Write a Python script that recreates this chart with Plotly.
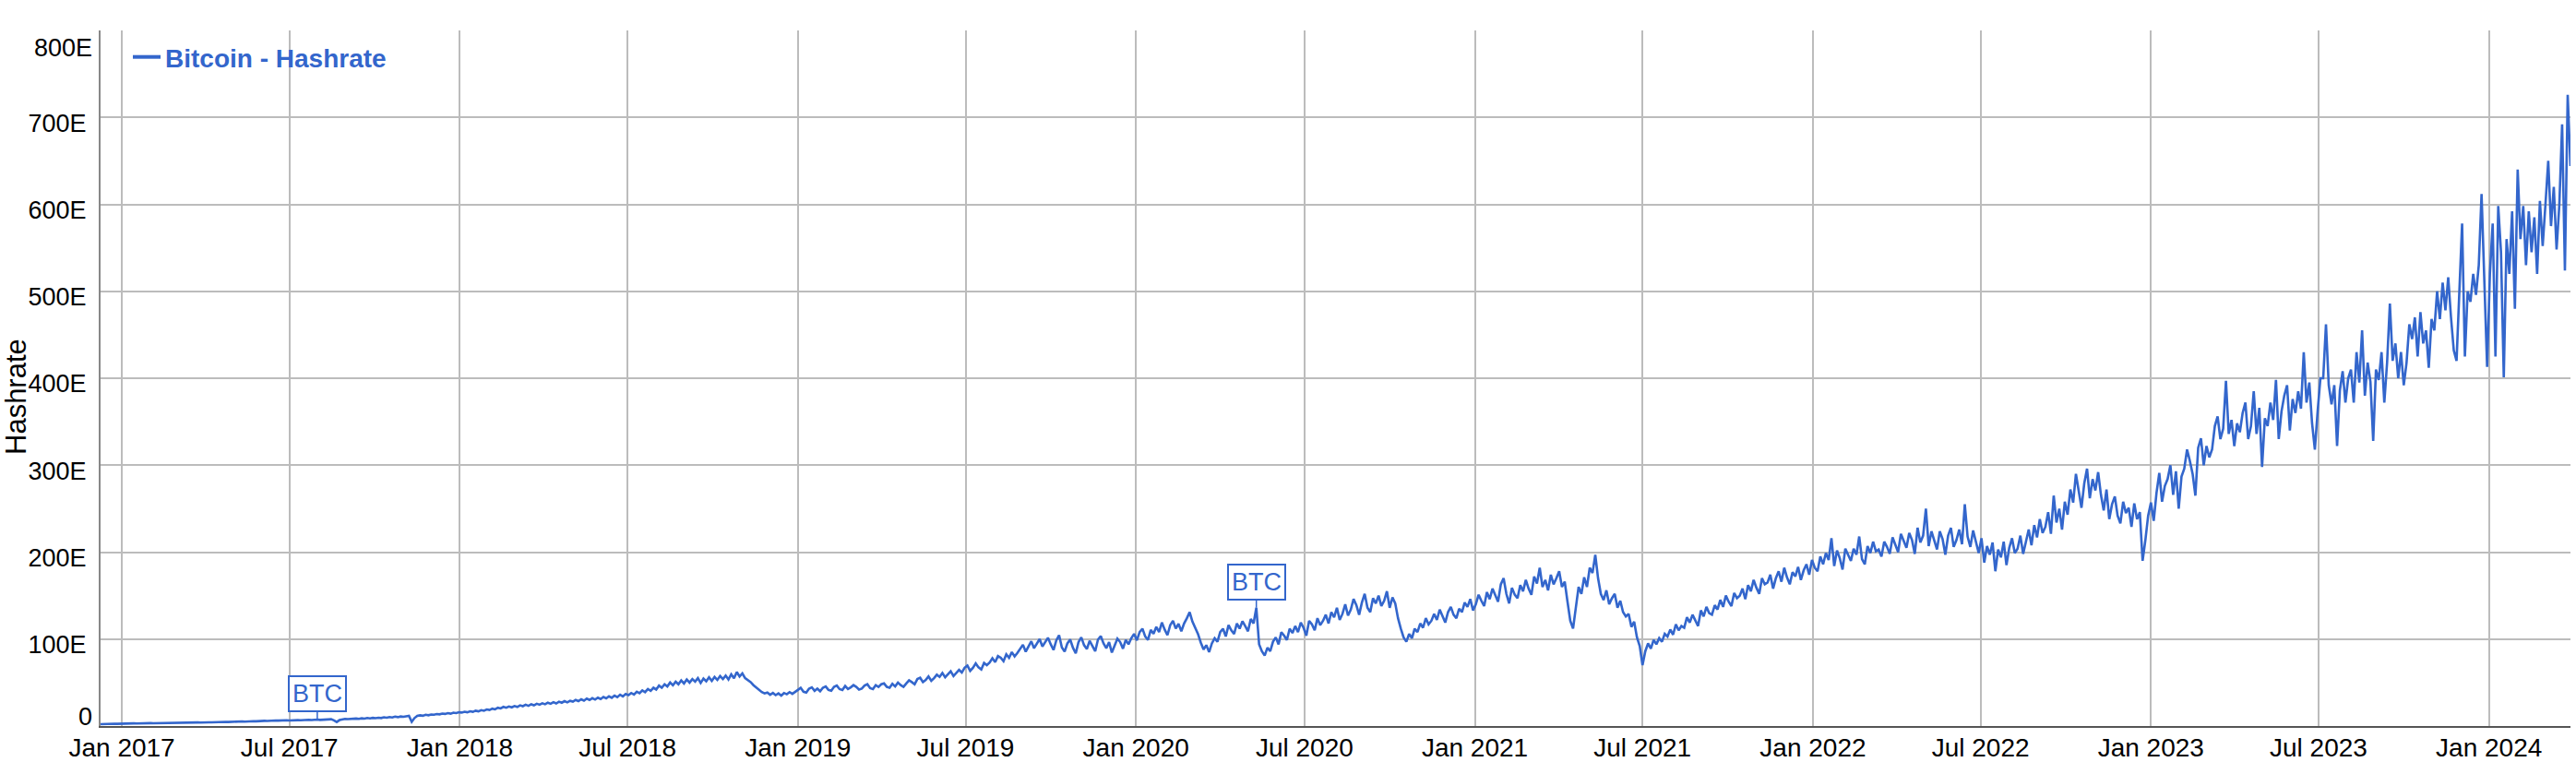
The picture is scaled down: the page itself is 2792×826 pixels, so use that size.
import pandas as pd
import plotly.graph_objects as go

# ---------------- data (EH/s, one reading every 3 days from start_date) ----------------
start_date = "2016-12-09"
step_days = 3

hashrate_2017 = [
    2.2, 2.4, 2.3, 2.5, 2.4, 2.6, 2.5, 2.7, 2.6, 2.8,
    2.9, 2.8, 3.0, 2.9, 3.1, 3.0, 3.2, 3.1, 3.3, 3.2,
    3.3, 3.4, 3.2, 3.5, 3.4, 3.6, 3.5, 3.7, 3.5, 3.8,
    3.7, 3.9, 3.8, 4.0, 3.9, 4.1, 3.9, 4.2, 4.1, 4.3,
    4.2, 4.4, 4.3, 4.5, 4.4, 4.7, 4.6, 4.9, 4.8, 5.1,
    5.0, 5.3, 5.1, 5.5, 5.3, 5.6, 5.4, 5.8, 5.7, 6.0,
    5.9, 6.2, 6.0, 6.4, 6.2, 6.5, 6.3, 6.6, 6.4, 6.7,
    6.5, 6.8, 6.6, 7.0, 6.8, 7.1, 6.9, 7.2, 7.4, 7.0,
    7.2, 7.6, 7.0, 7.8, 6.5, 4.6, 6.8, 7.9, 8.2, 7.9,
    8.3, 8.0, 8.6, 8.2, 8.9, 8.5, 9.2, 8.8, 9.4, 9.1,
    9.6, 9.2, 10.0, 9.6, 10.4, 9.9, 10.8, 10.2, 11.0, 10.6,
    11.0, 11.8, 4.8, 9.2, 11.6, 12.3, 11.8, 12.9, 12.4, 13.3,
    13.0, 13.8, 13.4, 14.3, 13.9, 14.8, 14.2, 15.3, 14.9, 15.8,
]
hashrate_2018 = [
    15.5, 16.4, 15.8, 17.0, 16.3, 17.6, 16.9, 18.3, 17.6, 19.0,
    18.5, 20.0, 19.2, 21.0, 20.2, 22.0, 21.0, 22.5, 21.5, 23.0,
    22.0, 23.8, 22.8, 24.5, 23.2, 25.0, 23.8, 25.6, 24.5, 26.2,
    25.0, 26.8, 25.6, 27.4, 26.0, 28.0, 26.8, 28.6, 27.2, 29.0,
    28.0, 30.0, 28.6, 30.8, 29.2, 31.5, 30.0, 32.0, 30.4, 32.6,
    31.0, 33.4, 31.8, 34.2, 32.5, 35.0, 33.2, 36.0, 34.0, 36.8,
    35.5, 38.0, 36.2, 39.5, 37.8, 41.0, 39.0, 42.5, 40.5, 44.0,
    42.0, 46.5, 44.0, 48.0, 45.5, 50.0, 46.8, 51.0, 48.0, 52.5,
    49.0, 53.5, 50.0, 54.0, 51.0, 55.0, 49.5, 54.5, 51.5, 56.0,
    52.0, 56.5, 53.0, 57.5, 54.0, 58.0, 53.5, 59.5, 55.0, 62.0,
    57.0, 60.5, 55.0, 53.0, 50.5, 47.0, 44.0, 41.5, 39.0, 37.5,
    38.5, 36.0, 38.0, 35.5, 37.5, 35.0, 38.0, 36.5, 39.0, 37.0,
]
hashrate_2019 = [
    39.0, 41.5, 44.0, 39.5, 38.5, 43.0, 44.5, 40.5, 43.0, 40.0,
    44.0, 45.5, 41.5, 40.5, 45.0, 46.5, 42.5, 41.5, 46.0, 42.5,
    44.5, 47.0, 45.0, 42.0, 43.0, 46.5, 48.0, 43.5, 42.5, 47.0,
    45.0, 48.0, 49.0, 45.0, 44.0, 48.5, 45.5, 50.0, 47.0, 45.0,
    49.0, 52.5, 50.5, 48.0, 54.0, 55.5, 50.5, 53.0, 57.0, 52.0,
    55.0, 59.0, 56.5, 61.0, 56.0, 59.5, 63.0, 57.5, 61.5, 64.5,
    61.5, 67.0, 69.5, 63.5, 67.0, 72.0, 67.5, 65.0, 72.5, 70.0,
    73.0, 78.0, 73.5, 80.5, 78.5, 74.5, 82.5, 78.5, 85.0, 80.0,
    84.0, 89.5, 93.5, 85.5, 91.5, 97.5, 89.5, 95.5, 100.0, 91.5,
    96.0, 101.5, 94.0, 87.5, 98.5, 104.5, 90.5, 85.5, 95.0, 99.5,
    90.0, 83.5, 96.5, 102.0, 93.0, 88.5, 98.0, 91.5, 86.0, 99.5,
    103.5, 95.0, 89.5, 96.5, 84.5, 92.5, 100.5, 96.5, 89.0, 99.0,
]
hashrate_2020 = [
    94.0, 101.0, 106.0, 98.5, 108.0, 112.0, 103.0, 99.0, 110.5, 106.0,
    114.0, 108.0, 119.0, 111.0, 104.5, 116.0, 121.0, 112.0, 117.5, 109.0,
    118.0, 124.0, 131.0, 120.0, 113.0, 106.0, 96.0, 88.0, 93.0, 85.0,
    95.0, 101.0, 97.0, 108.0, 112.0, 103.0, 116.0, 110.0, 106.0, 118.0,
    112.0, 120.5, 115.0, 109.0, 123.0, 118.0, 136.0, 94.0, 86.0, 81.0,
    90.0, 86.0, 97.0, 102.0, 94.0, 108.0, 104.0, 99.0, 112.0, 107.0,
    115.0, 108.0, 119.0, 113.0, 104.0, 121.0, 117.0, 110.0, 124.0, 116.0,
    121.0, 128.0, 118.0, 131.0, 125.0, 136.0, 122.0, 129.0, 140.0, 127.0,
    134.0, 146.0, 139.0, 128.0, 142.0, 152.0, 136.0, 131.0, 147.0, 141.0,
    150.0, 138.0, 144.0, 155.0, 136.0, 148.0, 141.0, 124.0, 112.0, 102.0,
    97.0, 106.0, 101.0, 112.0, 108.0, 118.0, 113.0, 124.0, 117.0, 121.0,
    129.0, 122.0, 134.0, 126.0, 119.0, 131.0, 137.0, 128.0, 124.0, 135.0,
    131.0, 142.0, 137.0, 146.0, 133.0, 140.0, 151.0, 144.0, 138.0, 154.0,
]
hashrate_2021 = [
    146.0, 158.0, 150.0, 143.0, 163.0, 170.0, 152.0, 141.0, 159.0, 151.0,
    147.0, 162.0, 155.0, 168.0, 158.0, 151.0, 172.0, 164.0, 182.0, 160.0,
    168.0, 156.0, 174.0, 163.0, 170.0, 178.0, 160.0, 166.0, 143.0, 121.0,
    112.0, 138.0, 160.0, 152.0, 171.0, 160.0, 182.0, 176.0, 197.0, 170.0,
    152.0, 145.0, 156.0, 140.0, 147.0, 152.0, 136.0, 144.0, 131.0, 126.0,
    129.0, 114.0, 120.0, 102.0, 92.0, 70.0, 86.0, 95.0, 89.0, 99.0,
    94.0, 101.0, 97.0, 106.0, 103.0, 111.0, 105.0, 117.0, 110.0, 115.0,
    113.0, 125.0, 119.0, 128.0, 121.0, 115.0, 133.0, 126.0, 137.0, 130.0,
    128.0, 139.0, 134.0, 145.0, 137.0, 150.0, 143.0, 138.0, 153.0, 147.0,
    150.0, 158.0, 146.0, 162.0, 155.0, 168.0, 159.0, 152.0, 170.0, 163.0,
    165.0, 174.0, 158.0, 170.0, 178.0, 166.0, 182.0, 171.0, 163.0, 177.0,
    172.0, 183.0, 168.0, 179.0, 186.0, 174.0, 191.0, 182.0, 178.0, 195.0,
]
hashrate_2022 = [
    186.0, 199.0, 191.0, 216.0, 184.0, 202.0, 193.0, 180.0, 204.0, 196.0,
    190.0, 204.0, 197.0, 218.0, 192.0, 186.0, 207.0, 199.0, 212.0, 201.0,
    203.0, 195.0, 212.0, 206.0, 198.0, 217.0, 209.0, 200.0, 221.0, 213.0,
    205.0, 222.0, 214.0, 198.0, 228.0, 211.0, 219.0, 250.0, 207.0, 224.0,
    212.0, 203.0, 224.0, 215.0, 197.0, 219.0, 228.0, 206.0, 214.0, 226.0,
    209.0, 255.0, 218.0, 206.0, 225.0, 212.0, 199.0, 216.0, 188.0, 207.0,
    197.0, 211.0, 178.0, 203.0, 194.0, 212.0, 185.0, 205.0, 216.0, 199.0,
    204.0, 219.0, 198.0, 212.0, 226.0, 208.0, 231.0, 217.0, 238.0, 222.0,
    229.0, 246.0, 221.0, 265.0, 234.0, 250.0, 226.0, 258.0, 243.0, 272.0,
    257.0, 290.0, 268.0, 251.0, 279.0, 296.0, 262.0, 284.0, 271.0, 292.0,
    266.0, 248.0, 272.0, 238.0, 255.0, 264.0, 242.0, 233.0, 258.0, 245.0,
    251.0, 229.0, 256.0, 238.0, 246.0, 190.0, 214.0, 242.0, 257.0, 236.0,
]
hashrate_2023 = [
    268.0, 291.0, 258.0, 276.0, 284.0, 300.0, 266.0, 293.0, 250.0, 287.0,
    296.0, 318.0, 305.0, 290.0, 265.0, 320.0, 331.0, 300.0, 322.0, 309.0,
    318.0, 345.0, 356.0, 330.0, 342.0, 397.0, 336.0, 352.0, 322.0, 348.0,
    338.0, 360.0, 372.0, 330.0, 345.0, 385.0, 336.0, 366.0, 298.0, 354.0,
    345.0, 372.0, 352.0, 398.0, 330.0, 362.0, 380.0, 392.0, 340.0, 376.0,
    360.0, 385.0, 365.0, 430.0, 372.0, 395.0, 348.0, 318.0, 362.0, 400.0,
    400.0, 462.0, 392.0, 370.0, 392.0, 322.0, 386.0, 408.0, 372.0, 400.0,
    410.0, 372.0, 430.0, 395.0, 455.0, 380.0, 418.0, 396.0, 328.0, 410.0,
    398.0, 430.0, 372.0, 418.0, 486.0, 420.0, 440.0, 400.0, 430.0, 392.0,
    418.0, 462.0, 445.0, 470.0, 425.0, 476.0, 440.0, 455.0, 412.0, 468.0,
    455.0, 500.0, 468.0, 510.0, 478.0, 516.0, 470.0, 432.0, 420.0, 495.0,
    578.0, 425.0, 500.0, 488.0, 520.0, 496.0, 530.0, 612.0, 505.0, 413.0,
]
hashrate_2024 = [
    520.0, 578.0, 425.0, 598.0, 545.0, 401.0, 560.0, 520.0, 592.0, 480.0,
    640.0, 560.0, 598.0, 530.0, 592.0, 545.0, 585.0, 520.0, 604.0, 552.0,
    600.0, 650.0, 575.0, 620.0, 548.0, 600.0, 692.0, 524.0, 726.0, 644.0,
]

series_name = "Bitcoin - Hashrate"
event_dates = ["2017-08-01", "2020-05-11"]
event_labels = ["BTC", "BTC"]

y_tick_values = [100, 200, 300, 400, 500, 600, 700]
y_tick_text = ["100E", "200E", "300E", "400E", "500E", "600E", "700E"]
y_bottom_tick = [0]
y_bottom_text = ["0"]
y_top_tick = [800]
y_top_text = ["800E"]
y_range = [0, 800]

# ---------------- figure ----------------
hashrate = (hashrate_2017 + hashrate_2018 + hashrate_2019 + hashrate_2020
            + hashrate_2021 + hashrate_2022 + hashrate_2023 + hashrate_2024)
dates = pd.date_range(start_date, periods=len(hashrate), freq=f"{step_days}D")

BLUE = "#3366CC"
FONT = "Liberation Sans, Arial, Helvetica, sans-serif"
W, H = 2792, 826
ML, MR, MT, MB = 109, 6, 33, 39
PW, PH = W - ML - MR, H - MT - MB
GRID = "#bcbcbc"

fig = go.Figure()
fig.add_trace(go.Scatter(
    x=dates, y=hashrate, mode="lines", name=series_name,
    line=dict(color=BLUE, width=2.6), hoverinfo="x+y", showlegend=False,
    legendgroup="hr",
))
# legend entry (thicker key line, like the reference legend)
fig.add_trace(go.Scatter(
    x=[dates[0]], y=[None], mode="lines", name=series_name,
    line=dict(color=BLUE, width=4), hoverinfo="skip", legendgroup="hr",
))
# carriers for the boundary tick labels (0 / 800E)
fig.add_trace(go.Scatter(x=[dates[0]], y=[None], yaxis="y2", showlegend=False, hoverinfo="skip"))
fig.add_trace(go.Scatter(x=[dates[0]], y=[None], yaxis="y3", showlegend=False, hoverinfo="skip"))

for d, lab in zip(event_dates, event_labels):
    idx = int(abs(dates - pd.Timestamp(d)).argmin())
    fig.add_annotation(
        x=dates[idx], y=hashrate[idx], xref="x", yref="y",
        text=lab, showarrow=True, arrowhead=0, arrowwidth=1.5, arrowcolor=BLUE,
        ax=0, ay=-28, font=dict(family=FONT, size=27, color=BLUE),
        bordercolor=BLUE, borderwidth=2, borderpad=3, bgcolor="white",
    )

fig.add_annotation(
    text="Hashrate", xref="paper", yref="paper",
    x=(17 - ML) / PW, y=(H - MB - 430) / PH,
    textangle=-90, showarrow=False, xanchor="center", yanchor="middle",
    font=dict(family=FONT, size=31, color="black"),
)

tick_font = dict(family=FONT, size=27, color="black")
fig.update_layout(
    width=W, height=H,
    margin=dict(l=ML, r=MR, t=MT, b=MB, pad=0, autoexpand=False),
    paper_bgcolor="white", plot_bgcolor="white",
    font=dict(family=FONT, color="black"),
    showlegend=True,
    legend=dict(
        x=(139 - ML) / PW, y=1.0 - 4 / PH, xanchor="left", yanchor="top",
        bgcolor="rgba(0,0,0,0)", borderwidth=0,
        font=dict(family=FONT, size=28, color=BLUE, weight="bold"),
        itemwidth=30,
    ),
    xaxis=dict(
        type="date", range=[dates[0], dates[-1]], automargin=False,
        tick0="2017-01-01", dtick="M6", tickformat="%b %Y",
        showgrid=True, gridcolor=GRID, gridwidth=2,
        showline=True, linecolor="#555555", linewidth=2,
        ticks="", zeroline=False, ticklabelstandoff=-3,
        tickfont=dict(family=FONT, size=28, color="black"),
    ),
    yaxis=dict(
        range=y_range, tickmode="array", tickvals=y_tick_values, ticktext=y_tick_text,
        showgrid=True, gridcolor=GRID, gridwidth=2, automargin=False,
        showline=True, linecolor="#888888", linewidth=2,
        ticks="", zeroline=False, tickfont=tick_font,
        ticklabelshift=6, ticklabelstandoff=8,
    ),
    yaxis2=dict(
        overlaying="y", side="left", range=y_range, automargin=False,
        tickmode="array", tickvals=y_bottom_tick, ticktext=y_bottom_text,
        showgrid=False, showline=False, zeroline=False, ticks="",
        tickfont=tick_font, ticklabelshift=-10, ticklabelstandoff=8,
    ),
    yaxis3=dict(
        overlaying="y", side="left", range=y_range, automargin=False,
        tickmode="array", tickvals=y_top_tick, ticktext=y_top_text,
        showgrid=False, showline=False, zeroline=False, ticks="",
        tickfont=tick_font, ticklabelshift=19, ticklabelstandoff=8,
    ),
)

fig.write_html(
    "out.html",
    config={"displayModeBar": False},
    post_script="document.body.style.margin='0';document.body.style.overflow='hidden';",
)
